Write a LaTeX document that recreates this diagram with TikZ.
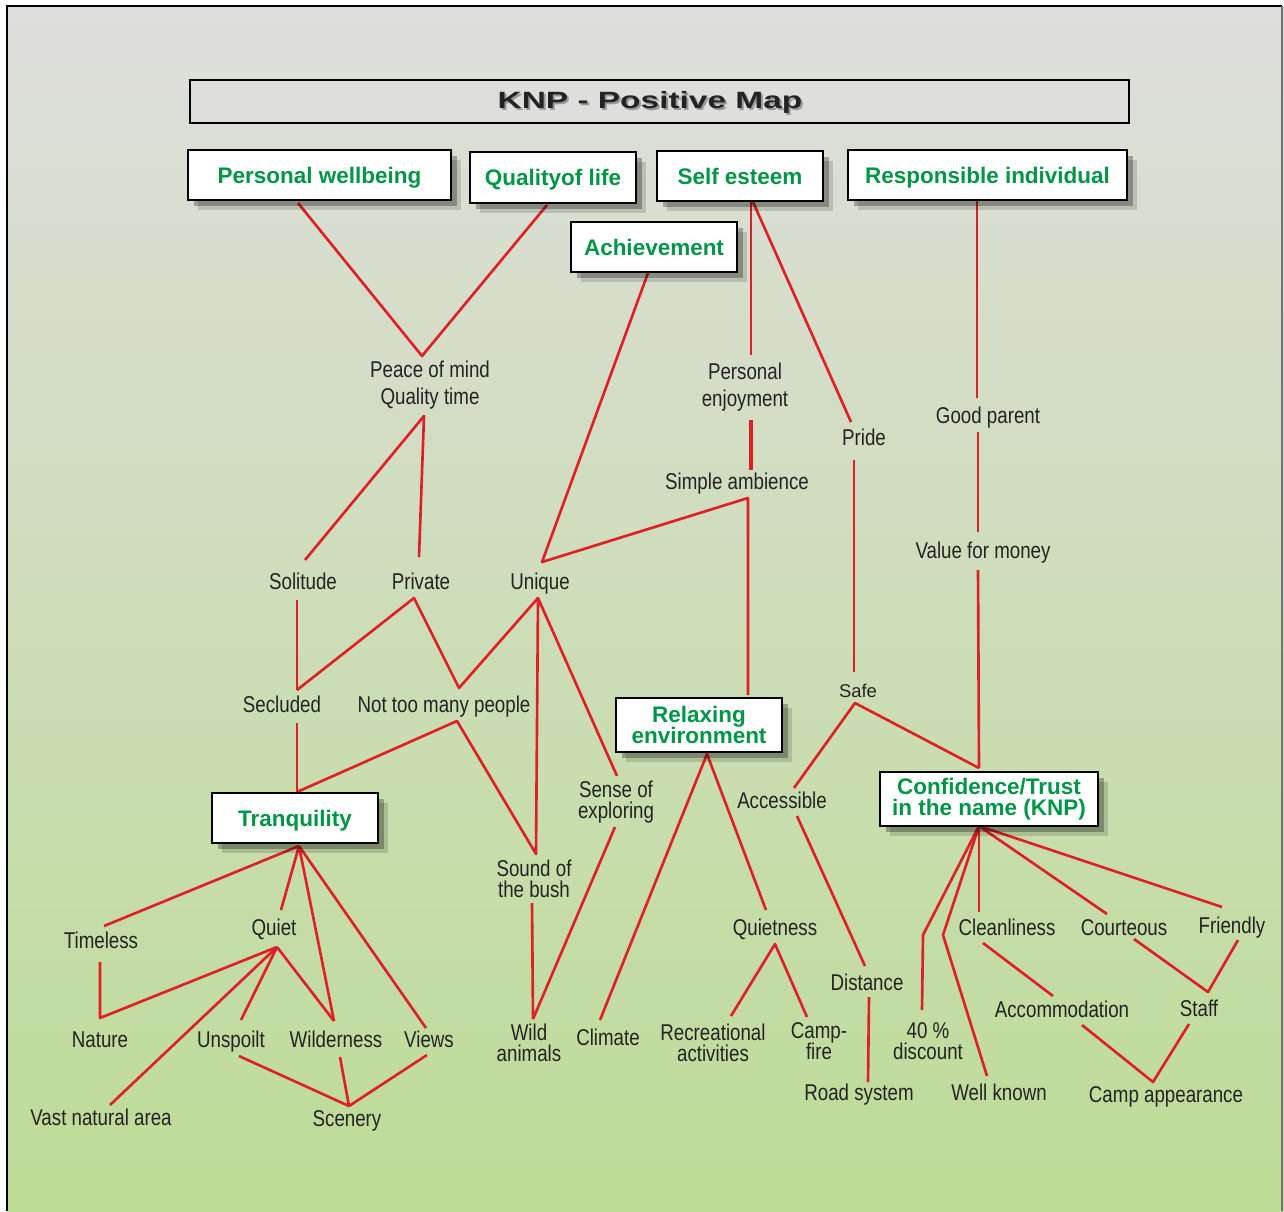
\documentclass[tikz,border=0pt]{standalone}
\usepackage{fontspec}
\setmainfont{Liberation Sans}
\newfontfamily\narrowfont[FakeStretch=0.82]{Liberation Sans}
\newfontfamily\widefont[FakeStretch=1.42]{Liberation Sans}
\usetikzlibrary{shadows}
\definecolor{bgtop}{RGB}{222,222,220}
\definecolor{bgmid}{RGB}{212,225,188}
\definecolor{bgbot}{RGB}{189,220,150}
\definecolor{mapgreen}{RGB}{0,150,70}
\definecolor{mapred}{RGB}{222,32,36}
\definecolor{ink}{RGB}{35,35,35}
\newcommand{\tightlines}{\lineskiplimit=-6pt\relax}
\tikzset{
  keybox/.style={draw=black, line width=1.4pt, fill=white, inner sep=0pt, align=center,
    font=\bfseries\fontsize{12.8}{11.6}\selectfont, text=mapgreen,
    execute at begin node=\tightlines,
    drop shadow={shadow xshift=0.2cm, shadow yshift=-0.2cm, opacity=0.14, fill=black},
    drop shadow={shadow xshift=0.12cm, shadow yshift=-0.12cm, opacity=0.28, fill=black}},
  onebox/.style={keybox, text height=0.94em, text depth=0pt},
  lbl/.style={font=\narrowfont\fontsize{13}{15}\selectfont, text=ink, align=center, inner sep=0pt},
  lbltight/.style={lbl, font=\narrowfont\fontsize{13}{12}\selectfont, execute at begin node=\tightlines},
  word/.style={lbl, text height=0.9em, text depth=0pt},
  link/.style={draw=mapred, line width=1.5pt, line join=round},
  titletext/.style={font=\widefont\bfseries\fontsize{13.4}{14}\selectfont, text height=0.89em, text depth=0pt}
}
\begin{document}
\begin{tikzpicture}[x=0.02cm, y=-0.02cm]
  \useasboundingbox (0,0) rectangle (1284,1211);
  % background and frame
  \shade[top color=bgtop, middle color=bgmid, bottom color=bgbot] (7,6) rectangle (1284,1211);
  \draw[line width=1.5pt] (7,1211) -- (7,6) -- (1282,6);
  \draw[black!55, line width=0.6pt] (1282,6) -- (1282,1211);
  % title bar
  \node[draw=black, line width=1.3pt, fill=bgtop, minimum width=18.78cm, minimum height=0.86cm] (titlebox) at (659.5,101.5) {};
  \node[titletext, text=black!40] (titleshadow) at (652,103) {KNP - Positive Map};
  \node[titletext, text=ink] (title) at (650,101) {KNP - Positive Map};
  % line end points
  \foreach \nm/\x/\y in {pw-o/298/203, qol-o/547/205, peace-t/422/356, peace-b/424/416,
      solitude-t/305/560, private-t/419/557, ach-o/648/273, unique-t/542/562,
      simple-b/748/498, relax-t/748/695, se-o/751/202, se-o2/753/202, penj-t/751/355,
      penj-b/751/420, simple-t/751/470, pride-t/851/422, pride-b/854/460, safe-t/854/672,
      safe-b/855/703, ri-o/977/199, goodp-t/977/398, goodp-b/978/432, value-t/978/532,
      value-b/978/570, conf-t/979/768, access-t/794/788, access-b/797/816,
      distance-t/865/966, distance-b/869/997, road-t/868/1082,
      solitude-b/297/600, secluded-t/297/690, private-b/414/598, notmany-t/459/688,
      unique-b/538/598, secluded-b/297/723, tranq-t/297/792, notmany-b/457/721,
      sound-t/536/854, sense-t/617/776, sense-b/615/827, wild-t/533/1019, sound-b/532/903,
      relax-b/707/754, climate-t/600/1020, quietness-t/766/910, quietness-b/775/944,
      recre-t/731/1016, campfire-t/807/1017,
      tranq-b/299/846, timeless-t/104/926, quiet-t/281/910, wilder-t/334/1021,
      views-t/426/1028, timeless-b/100/962, nature-t/100/1018, quiet-b/277/947,
      unspoilt-t/241/1020, vast-t/110/1105, unspoilt-b/239/1056, wilder-b/340/1057,
      views-b/427/1055, scenery-t/349/1106,
      conf-b/979/826, disc-k/923/935, disc-t/922/1010, wellk-k/943/935, wellk-t/987/1076,
      clean-t/979/912, court-t/1107/914, friendly-t/1222/907, clean-b/983/943,
      accom-t/1053/996, court-b/1134/939, staff-t/1208/992, friendly-b/1238/940,
      accom-b/1082/1025, campapp-t/1153/1082, staff-b/1189/1024}
    \coordinate (\nm) at (\x,\y);
  % connectors
  \draw[link] (pw-o) -- (peace-t) -- (qol-o);
  \draw[link] (solitude-t) -- (peace-b) -- (private-t);
  \draw[link] (ach-o) -- (unique-t) -- (simple-b) -- (relax-t);
  \draw[link] (se-o) -- (penj-t);
  \draw[link, line width=2.4pt] (penj-b) -- (simple-t);
  \draw[link] (se-o2) -- (pride-t);
  \draw[link] (pride-b) -- (safe-t);
  \draw[link] (ri-o) -- (goodp-t);
  \draw[link] (goodp-b) -- (value-t);
  \draw[link] (value-b) -- (conf-t);
  \draw[link] (access-t) -- (safe-b) -- (conf-t);
  \draw[link] (access-b) -- (distance-t);
  \draw[link] (distance-b) -- (road-t);
  \draw[link] (solitude-b) -- (secluded-t);
  \draw[link] (secluded-t) -- (private-b) -- (notmany-t) -- (unique-b);
  \draw[link] (secluded-b) -- (tranq-t);
  \draw[link] (tranq-t) -- (notmany-b) -- (sound-t) -- (unique-b) -- (sense-t);
  \draw[link] (sense-b) -- (wild-t);
  \draw[link] (sound-b) -- (wild-t);
  \draw[link] (climate-t) -- (relax-b) -- (quietness-t);
  \draw[link] (recre-t) -- (quietness-b) -- (campfire-t);
  \foreach \e in {timeless-t, quiet-t, wilder-t, views-t}
    \draw[link] (tranq-b) -- (\e);
  \draw[link] (timeless-b) -- (nature-t) -- (quiet-b);
  \foreach \e in {unspoilt-t, wilder-t, vast-t}
    \draw[link] (quiet-b) -- (\e);
  \foreach \e in {unspoilt-b, wilder-b, views-b}
    \draw[link] (\e) -- (scenery-t);
  \draw[link] (conf-b) -- (disc-k) -- (disc-t);
  \draw[link] (conf-b) -- (wellk-k) -- (wellk-t);
  \foreach \e in {clean-t, court-t, friendly-t}
    \draw[link] (conf-b) -- (\e);
  \draw[link] (clean-b) -- (accom-t);
  \draw[link] (court-b) -- (staff-t) -- (friendly-b);
  \draw[link] (accom-b) -- (campapp-t) -- (staff-b);
  % key boxes
  \node[onebox, minimum width=5.26cm, minimum height=1cm] (pw) at (319.5,175) {Personal wellbeing};
  \node[onebox, minimum width=3.32cm, minimum height=1.02cm] (qol) at (553,177.5) {Qualityof life};
  \node[onebox, minimum width=3.32cm, minimum height=1cm] (se) at (740,176) {Self esteem};
  \node[onebox, minimum width=5.58cm, minimum height=1cm] (ri) at (987.5,175) {Responsible individual};
  \node[onebox, minimum width=3.32cm, minimum height=1cm] (ach) at (654,247) {Achievement};
  \node[keybox, minimum width=3.32cm, minimum height=1.08cm] (relax) at (699,725) {Relaxing\\environment};
  \node[onebox, minimum width=3.32cm, minimum height=1cm] (tranq) at (295,818) {Tranquility};
  \node[keybox, minimum width=4.36cm, minimum height=1.08cm] (conf) at (989,799) {Confidence/Trust\\in the name (KNP)};
  % labels
  \foreach \nm/\x/\y/\txt in {peace/430/385/{Peace of mind\\Quality time},
      penj/745/387/{Personal\\enjoyment}}
    \node[lbl] (\nm) at (\x,\y) {\txt};
  \foreach \nm/\x/\y/\txt in {sense/616/802/{Sense of\\exploring}, sound/534/879/{Sound of\\the bush},
      wildanim/529/1043/{Wild\\animals}, recre/713/1043/{Recreational\\activities},
      campfire/819/1041/{Camp-\\fire}, disc/928/1041/{40 \%\\discount}}
    \node[lbltight] (\nm) at (\x,\y) {\txt};
  \foreach \nm/\x/\y/\txt in {pride/864/438/Pride, goodp/988/416/Good parent,
      simple/737/482/Simple ambience, value/983/551/Value for money,
      solitude/303/582/Solitude, private/421/582/Private, unique/540/582/Unique,
      secluded/282/705/Secluded, notmany/444/705/Not too many people,
      access/782/801/Accessible, timeless/101/941/Timeless, quiet/274/928/Quiet,
      quietness/775/928/Quietness, clean/1007/928/Cleanliness, court/1124/928/Courteous,
      friendly/1232/926/Friendly, distance/867/983/Distance, nature/100/1040/Nature,
      unspoilt/231/1040/Unspoilt, wilder/336/1040/Wilderness, views/429/1040/Views,
      climate/608/1038/Climate, accom/1062/1010/Accommodation, staff/1199/1009/Staff,
      vast/101/1118/Vast natural area, scenery/347/1119/Scenery, road/859/1093/Road system,
      wellk/999/1093/Well known, campapp/1166/1095/Camp appearance}
    \node[word] (\nm) at (\x,\y) {\txt};
  \node[word, font=\fontsize{10.5}{12}\selectfont] (safe) at (858,690) {Safe};
\end{tikzpicture}
\end{document}
